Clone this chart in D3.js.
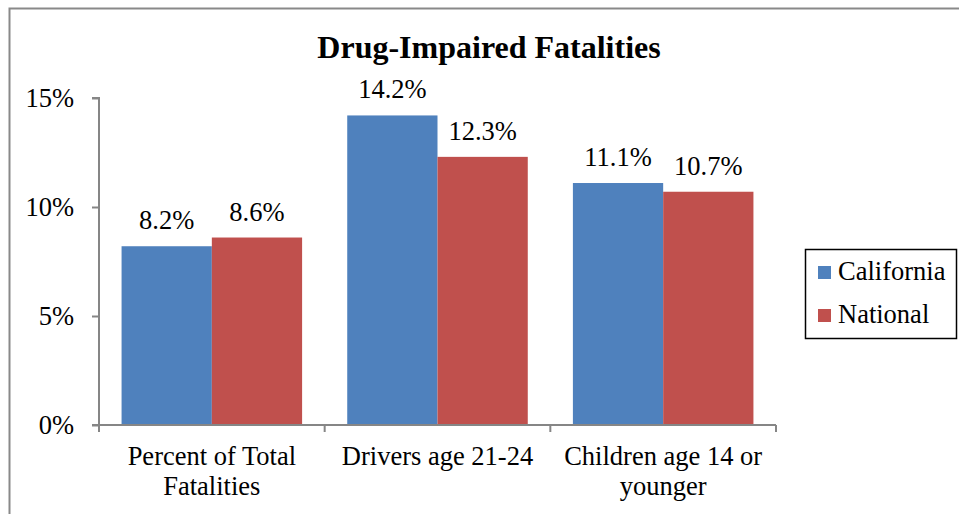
<!DOCTYPE html>
<html>
<head>
<meta charset="utf-8">
<script src="https://cdn.jsdelivr.net/npm/d3@7"></script>
<style>
  body { margin: 0; background: #fff; }
  text { font-family: "Liberation Serif", "Times New Roman", serif; fill: #000; }
</style>
</head>
<body>
<svg id="chart" width="959" height="514"></svg>
<script>
// data
var categories = [["Percent of Total", "Fatalities"], ["Drivers age 21-24"], ["Children age 14 or", "younger"]];
var seriesNames = ["California", "National"];
var california = [8.2, 14.2, 11.1];
var national = [8.6, 12.3, 10.7];
var yTicks = [0, 5, 10, 15];
var colors = ["#4F81BD", "#C0504D"];

var svg = d3.select("#chart");
var fs = "26.5px";

// outer chart border (runs off the right/bottom of the picture)
svg.append("rect")
  .attr("x", 9.5).attr("y", 8.5)
  .attr("width", 960).attr("height", 520)
  .attr("fill", "none")
  .attr("stroke", "#898989")
  .attr("stroke-width", 2);

var plotLeft = 99, plotRight = 776, plotTop = 98, plotBottom = 425;

var x0 = d3.scaleBand()
  .domain(d3.range(categories.length))
  .range([plotLeft, plotRight])
  .paddingInner(0.2)
  .paddingOuter(0.1);

var x1 = d3.scaleBand()
  .domain(d3.range(seriesNames.length))
  .range([0, x0.bandwidth()]);

var y = d3.scaleLinear()
  .domain([0, 15])
  .range([plotBottom, plotTop]);

var rows = categories.map(function(c, i) { return [california[i], national[i]]; });

// bars
var groups = svg.append("g")
  .selectAll("g")
  .data(rows)
  .enter().append("g")
  .attr("transform", function(d, i) { return "translate(" + x0(i) + ",0)"; });

groups.selectAll("rect")
  .data(function(d) { return d; })
  .enter().append("rect")
  .attr("x", function(d, j) { return x1(j); })
  .attr("y", function(d) { return y(d); })
  .attr("width", x1.bandwidth())
  .attr("height", function(d) { return y(0) - y(d); })
  .attr("fill", function(d, j) { return colors[j]; });

groups.selectAll("text")
  .data(function(d) { return d; })
  .enter().append("text")
  .attr("x", function(d, j) { return x1(j) + x1.bandwidth() / 2; })
  .attr("y", function(d) { return y(d) - 17; })
  .attr("text-anchor", "middle")
  .style("font-size", fs)
  .text(function(d) { return d.toFixed(1) + "%"; });

// y axis
var yAxis = d3.axisLeft(y)
  .tickValues(yTicks)
  .tickSize(7)
  .tickPadding(18)
  .tickFormat(function(d) { return d + "%"; });

var gy = svg.append("g")
  .attr("transform", "translate(" + plotLeft + ",0)")
  .call(yAxis);
gy.selectAll("path, line").attr("stroke", "#868686").attr("stroke-width", 2);
gy.select(".domain").attr("d", "M-7," + plotTop + "H0V" + plotBottom + "H-7");
gy.selectAll("text")
  .style("font-family", "'Liberation Serif', serif")
  .style("font-size", fs)
  .attr("fill", "#000");

// x axis
var xEdges = d3.range(categories.length + 1).map(function(i) {
  return i < categories.length ? x0(i) - x0.step() * x0.paddingOuter() : plotRight;
});
var gx = svg.append("g");
gx.append("line")
  .attr("x1", plotLeft).attr("x2", plotRight)
  .attr("y1", plotBottom).attr("y2", plotBottom)
  .attr("stroke", "#868686").attr("stroke-width", 2);
gx.selectAll("line.tick")
  .data(xEdges)
  .enter().append("line")
  .attr("class", "tick")
  .attr("x1", function(d) { return d; }).attr("x2", function(d) { return d; })
  .attr("y1", plotBottom).attr("y2", plotBottom + 7)
  .attr("stroke", "#868686").attr("stroke-width", 2);

var labels = gx.selectAll("text")
  .data(categories)
  .enter().append("text")
  .attr("text-anchor", "middle")
  .attr("x", function(d, i) { return x0(i) + x0.bandwidth() / 2; })
  .attr("y", 465)
  .style("font-size", fs);
labels.selectAll("tspan")
  .data(function(d) { return d; })
  .enter().append("tspan")
  .attr("x", function() { return d3.select(this.parentNode).attr("x"); })
  .attr("dy", function(d, k) { return k === 0 ? 0 : 30; })
  .text(function(d) { return d; });

// title
svg.append("text")
  .attr("x", 489)
  .attr("y", 58)
  .attr("text-anchor", "middle")
  .style("font-size", "32px")
  .style("font-weight", "bold")
  .text("Drug-Impaired Fatalities");

// legend
var legend = svg.append("g");
legend.append("rect")
  .attr("x", 805.5).attr("y", 249.5)
  .attr("width", 151).attr("height", 89)
  .attr("fill", "#fff")
  .attr("stroke", "#000")
  .attr("stroke-width", 1.5);

var items = legend.selectAll("g")
  .data(seriesNames)
  .enter().append("g")
  .attr("transform", function(d, i) { return "translate(818," + (266 + i * 43) + ")"; });
items.append("rect")
  .attr("width", 13).attr("height", 13)
  .attr("fill", function(d, i) { return colors[i]; });
items.append("text")
  .attr("x", 20)
  .attr("y", 14)
  .style("font-size", fs)
  .text(function(d) { return d; });
</script>
</body>
</html>
